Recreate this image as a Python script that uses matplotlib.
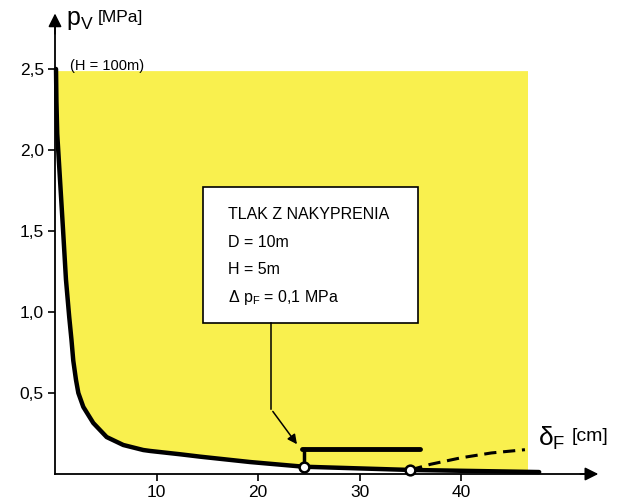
import numpy as np
import matplotlib
matplotlib.use('Agg')
import matplotlib.pyplot as plt
from matplotlib.patches import Rectangle

plt.rcParams['font.family'] = ['Liberation Sans', 'DejaVu Sans']
plt.rcParams['mathtext.fontset'] = 'custom'
plt.rcParams['mathtext.rm'] = 'Liberation Sans'
plt.rcParams['mathtext.it'] = 'Liberation Sans'

# main curve  deformation [cm] vs pressure [MPa]
curve_x = [0.1, 0.14, 0.22, 0.5, 0.79, 1.08, 1.4, 1.62, 1.8, 2.07, 2.3, 2.79, 3.77,
           5.09, 6.73, 8.7, 9.4, 12.3, 14.3, 19.2, 24.5, 35.0, 47.7]
curve_y = [2.5, 2.3, 2.1, 1.81, 1.51, 1.2, 0.97, 0.83, 0.70, 0.58, 0.50, 0.414, 0.315,
           0.228, 0.179, 0.148, 0.142, 0.122, 0.107, 0.074, 0.045, 0.025, 0.012]

# dashed branch after second point
dash_x = [35.0, 37.0, 40.0, 43.0, 46.3]
dash_y = [0.025, 0.06, 0.10, 0.13, 0.15]

# marked points
pt_x = [24.5, 35.0]
pt_y = [0.045, 0.025]

# horizontal bar (tlak z nakyprenia)
bar_x = [24.3, 36.0]
bar_y = 0.155

yellow_top = 2.49
yellow_right = 46.5

xticks = [10, 20, 30, 40]
yticks = [0.5, 1.0, 1.5, 2.0, 2.5]
ytick_labels = ['0,5', '1,0', '1,5', '2,0', '2,5']

box_lines = ['TLAK Z NAKYPRENIA', 'D = 10m', 'H = 5m', r'$\Delta\ p_F$ = 0,1 MPa']

fig = plt.figure(figsize=(6.23, 5.01), dpi=100)
ax = fig.add_axes([0, 0, 1, 1])
ax.set_xlim(-55 / 10.15, (623 - 55) / 10.15)
ax.set_ylim((474 - 501) / 162, 474 / 162)

# yellow area above the curve
fb = ax.fill_between(curve_x, curve_y, yellow_top, color='#f9f04e', lw=0, zorder=1)
clip = Rectangle((0, 0), yellow_right, yellow_top, transform=ax.transData)
fb.set_clip_path(clip)

ax.plot(curve_x, curve_y, color='black', lw=3.2, solid_capstyle='round',
        solid_joinstyle='round', zorder=4)
ax.plot(dash_x, dash_y, color='black', lw=2.2, ls=(0, (4, 2.2)), zorder=4)
ax.plot(bar_x, [bar_y, bar_y], color='black', lw=3.5, solid_capstyle='round', zorder=4)
ax.plot([pt_x[0], pt_x[0]], [pt_y[0], bar_y], color='black', lw=2.5, zorder=4)
ax.plot(pt_x, pt_y, 'o', ms=7, mfc='white', mec='black', mew=1.8, zorder=5)

# info box
ax.add_patch(Rectangle((14.6, 0.93), 35.8 - 14.6, 1.77 - 0.93, facecolor='white',
                       edgecolor='black', lw=1.2, zorder=3))
for i, s in enumerate(box_lines):
    ax.text(17.0, 1.60 - i * 0.17, s, fontsize=11.5, va='center', ha='left', zorder=6)

# pointer from box to the bar
ax.plot([21.3, 21.3], [0.93, 0.40], color='black', lw=1.1, zorder=4)
ax.annotate('', xy=(24.0, 0.17), xytext=(21.3, 0.40),
            arrowprops=dict(arrowstyle='-|>', color='black', lw=1.1, mutation_scale=14),
            zorder=4)

# axes with arrows
for s in ['top', 'right']:
    ax.spines[s].set_visible(False)
ax.spines['left'].set_position(('data', 0))
ax.spines['bottom'].set_position(('data', 0))
ax.spines['left'].set_bounds(0, 2.78)
ax.spines['bottom'].set_bounds(0, 52.5)
ax.spines['left'].set_linewidth(1.3)
ax.spines['bottom'].set_linewidth(1.3)
ax.annotate('', xy=(0, 2.86), xytext=(0, 2.7),
            arrowprops=dict(arrowstyle='-|>', color='black', lw=1.2, mutation_scale=20))
ax.annotate('', xy=(53.8, 0), xytext=(51.5, 0),
            arrowprops=dict(arrowstyle='-|>', color='black', lw=1.2, mutation_scale=20))

ax.set_xticks(xticks)
ax.set_xticklabels([str(t) for t in xticks])
ax.set_yticks(yticks)
ax.set_yticklabels(ytick_labels)
ax.tick_params(axis='both', direction='out', length=5, width=1.2, labelsize=12.5, pad=3)

ax.text(1.1, 2.80, r'$\mathregular{p_V}$', fontsize=18, va='center', ha='left')
ax.text(4.2, 2.82, '[MPa]', fontsize=12.5, va='center', ha='left')
ax.text(1.5, 2.52, '(H = 100m)', fontsize=10.5, va='center', ha='left', zorder=6)
ax.text(47.6, 0.22, r'$\mathregular{\delta_F}$', fontsize=19, va='center', ha='left')
ax.text(50.9, 0.23, '[cm]', fontsize=14, va='center', ha='left')

fig.savefig('out.png', dpi=100)
